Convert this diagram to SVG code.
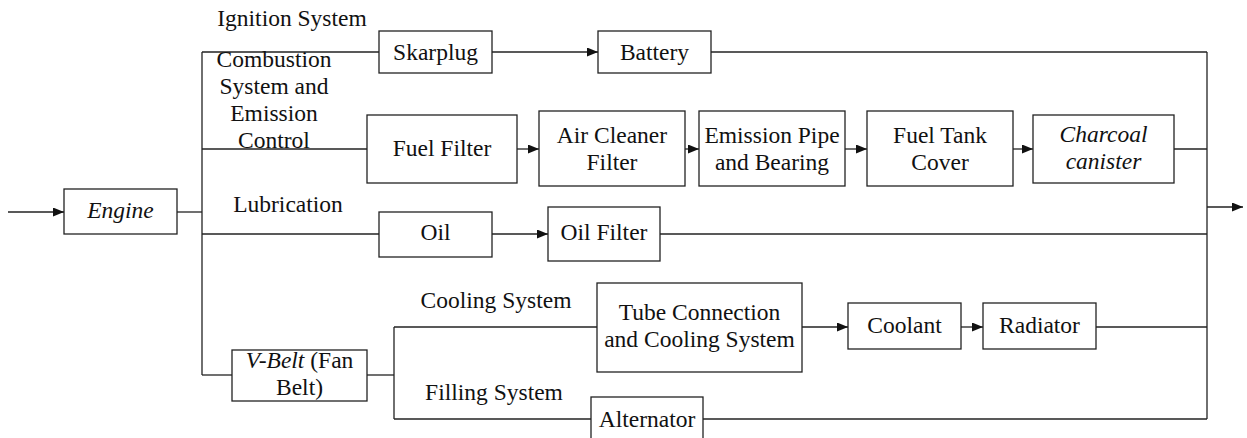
<svg xmlns="http://www.w3.org/2000/svg" width="1247" height="438" viewBox="0 0 1247 438">
<style>
text{font-family:'Liberation Serif','Times New Roman',serif;font-size:23.5px;fill:#111;text-anchor:middle}
.i{font-style:italic}
rect{fill:#fff;stroke:#222;stroke-width:1.3}
.c line{fill:none;stroke:#222;stroke-width:1.3}
</style>
<defs>
<marker id="ah" markerUnits="userSpaceOnUse" markerWidth="12" markerHeight="10" refX="11" refY="4.5" orient="auto"><path d="M0,0 L11,4.5 L0,9 z" fill="#111"/></marker>
</defs>
<g class="c" id="connectors">
<line x1="8" y1="212" x2="64" y2="212" marker-end="url(#ah)"/>
<line x1="177" y1="212" x2="202" y2="212"/>
<line x1="202" y1="52" x2="202" y2="375"/>
<line x1="202" y1="52" x2="379" y2="52"/>
<line x1="492" y1="52" x2="598" y2="52" marker-end="url(#ah)"/>
<line x1="711" y1="52" x2="1207" y2="52"/>
<line x1="202" y1="149" x2="367" y2="149"/>
<line x1="517" y1="149" x2="539" y2="149" marker-end="url(#ah)"/>
<line x1="685" y1="149" x2="699" y2="149" marker-end="url(#ah)"/>
<line x1="845" y1="149" x2="867" y2="149" marker-end="url(#ah)"/>
<line x1="1013" y1="149" x2="1033" y2="149" marker-end="url(#ah)"/>
<line x1="1174" y1="149" x2="1207" y2="149"/>
<line x1="202" y1="234" x2="379" y2="234"/>
<line x1="492" y1="234" x2="548" y2="234" marker-end="url(#ah)"/>
<line x1="660" y1="234" x2="1207" y2="234"/>
<line x1="202" y1="375" x2="232" y2="375"/>
<line x1="367" y1="375" x2="394" y2="375"/>
<line x1="394" y1="327" x2="394" y2="419"/>
<line x1="394" y1="327" x2="597" y2="327"/>
<line x1="802" y1="327" x2="848" y2="327" marker-end="url(#ah)"/>
<line x1="961" y1="327" x2="983" y2="327" marker-end="url(#ah)"/>
<line x1="1096" y1="327" x2="1207" y2="327"/>
<line x1="394" y1="419" x2="591" y2="419"/>
<line x1="703" y1="419" x2="1207" y2="419"/>
<line x1="1207" y1="52" x2="1207" y2="419"/>
<line x1="1207" y1="207" x2="1243" y2="207" marker-end="url(#ah)"/>
</g>
<g id="labels">
<text x="292" y="26">Ignition System</text>
<text x="274" y="67">Combustion</text>
<text x="274" y="94">System and</text>
<text x="274" y="121">Emission</text>
<text x="274" y="148">Control</text>
<text x="288" y="212">Lubrication</text>
<text x="496" y="308">Cooling System</text>
<text x="494" y="400">Filling System</text>
</g>
<g id="engine"><rect x="64" y="189" width="113" height="45"/><text class="i" x="120.5" y="218">Engine</text></g>
<g id="skarplug"><rect x="379" y="31" width="113" height="42"/><text x="435.5" y="60">Skarplug</text></g>
<g id="battery"><rect x="598" y="31" width="113" height="42"/><text x="654.5" y="60">Battery</text></g>
<g id="fuel-filter"><rect x="367" y="115" width="150" height="68"/><text x="442" y="156">Fuel Filter</text></g>
<g id="air-cleaner"><rect x="539" y="111" width="146" height="75"/><text x="612" y="142.5">Air Cleaner</text><text x="612" y="169.5">Filter</text></g>
<g id="emission-pipe"><rect x="699" y="111" width="146" height="75"/><text x="772" y="142.5">Emission Pipe</text><text x="772" y="169.5">and Bearing</text></g>
<g id="fuel-tank"><rect x="867" y="111" width="146" height="75"/><text x="940" y="142.5">Fuel Tank</text><text x="940" y="169.5">Cover</text></g>
<g id="charcoal"><rect x="1033" y="115" width="141" height="68"/><text class="i" x="1103.5" y="142">Charcoal</text><text class="i" x="1103.5" y="169">canister</text></g>
<g id="oil"><rect x="379" y="212" width="113" height="45"/><text x="435.5" y="240">Oil</text></g>
<g id="oil-filter"><rect x="548" y="207" width="112" height="54"/><text x="604" y="240">Oil Filter</text></g>
<g id="v-belt"><rect x="232" y="350" width="135" height="51"/><text x="299.5" y="368"><tspan class="i">V-Belt</tspan> (Fan</text><text x="299.5" y="395">Belt)</text></g>
<g id="tube"><rect x="597" y="283" width="205" height="89"/><text x="699.5" y="320">Tube Connection</text><text x="699.5" y="347">and Cooling System</text></g>
<g id="coolant"><rect x="848" y="303" width="113" height="46"/><text x="904.5" y="333">Coolant</text></g>
<g id="radiator"><rect x="983" y="303" width="113" height="46"/><text x="1039.5" y="333">Radiator</text></g>
<g id="alternator"><rect x="591" y="397" width="112" height="45"/><text x="647" y="427">Alternator</text></g>
</svg>
